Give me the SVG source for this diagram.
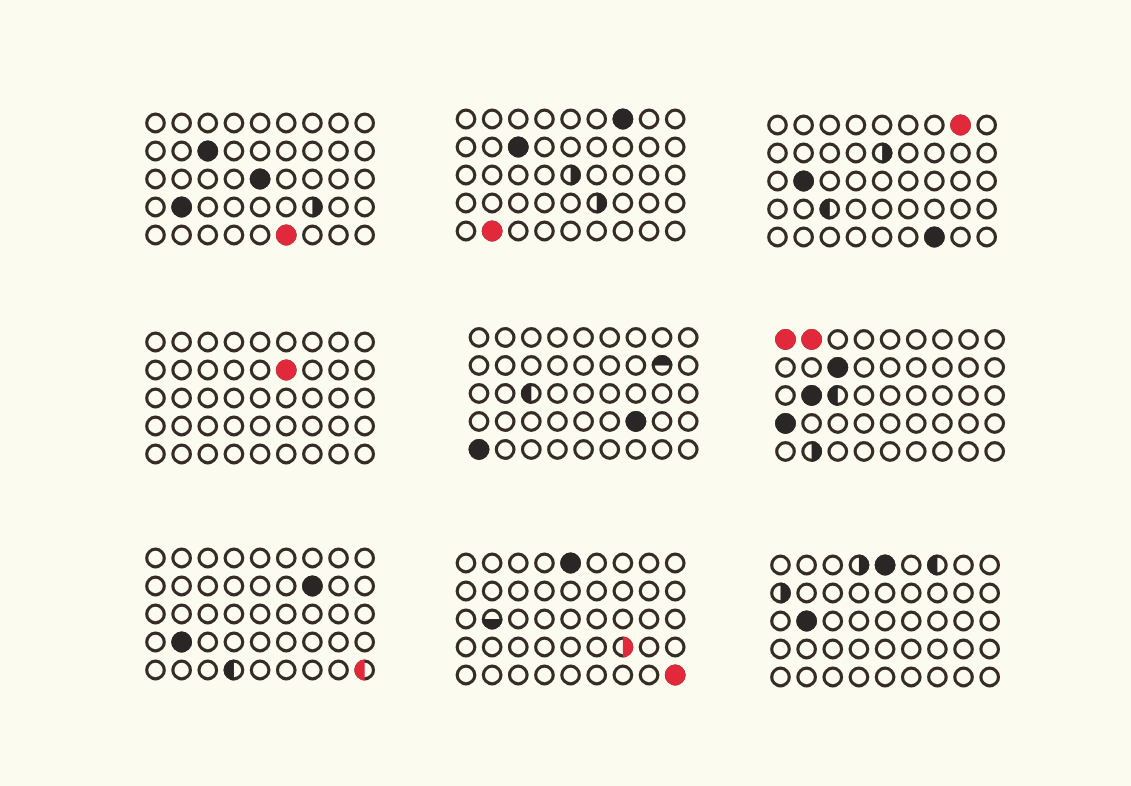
<svg xmlns="http://www.w3.org/2000/svg" xmlns:xlink="http://www.w3.org/1999/xlink" width="1131" height="786" viewBox="0 0 1131 786">
<style>
.ring{fill:none;stroke:#352c27;stroke-width:3.2}
.dk{fill:#2b2626}
.rd{fill:#e2293b}
</style>
<defs>
<circle id="o" class="ring" r="8.8"/>
<circle id="d" class="dk" r="10.4"/>
<circle id="rf" class="rd" r="10.4"/>
<g id="hr"><path class="dk" d="M0,-10.4 A10.4,10.4 0 0 1 0,10.4 Z"/></g>
<g id="hl"><path class="dk" d="M0,-10.4 A10.4,10.4 0 0 0 0,10.4 Z"/></g>
<g id="ht"><path class="dk" d="M-10.4,0 A10.4,10.4 0 0 1 10.4,0 Z"/></g>
<g id="hb"><path class="dk" d="M-10.4,0 A10.4,10.4 0 0 0 10.4,0 Z"/></g>
<g id="hlr"><path class="rd" d="M0,-10.4 A10.4,10.4 0 0 0 0,10.4 Z"/></g>
<g id="hrr"><path class="rd" d="M0,-10.4 A10.4,10.4 0 0 1 0,10.4 Z"/></g>
<g id="row">
<use href="#o" x="0"/><use href="#o" x="26.15"/><use href="#o" x="52.3"/><use href="#o" x="78.45"/><use href="#o" x="104.6"/><use href="#o" x="130.75"/><use href="#o" x="156.9"/><use href="#o" x="183.05"/><use href="#o" x="209.2"/>
</g>
<g id="grid">
<use href="#row" y="0"/><use href="#row" y="28"/><use href="#row" y="56"/><use href="#row" y="84"/><use href="#row" y="112"/>
</g>
</defs>
<rect width="1131" height="786" fill="#fcfbf0"/>
<g id="grid1" transform="translate(155.5,123)">
<use href="#grid"/>
<use href="#d" x="52.3" y="28"/>
<use href="#d" x="104.6" y="56"/>
<use href="#d" x="26.15" y="84"/>
<use href="#hr" x="156.9" y="84"/>
<use href="#rf" x="130.75" y="112"/>
</g>
<g id="grid2" transform="translate(466,119)">
<use href="#grid"/>
<use href="#d" x="156.9" y="0"/>
<use href="#d" x="52.3" y="28"/>
<use href="#hr" x="104.6" y="56"/>
<use href="#hr" x="130.75" y="84"/>
<use href="#rf" x="26.15" y="112"/>
</g>
<g id="grid3" transform="translate(777.5,125)">
<use href="#grid"/>
<use href="#rf" x="183.05" y="0"/>
<use href="#hr" x="104.6" y="28"/>
<use href="#d" x="26.15" y="56"/>
<use href="#hl" x="52.3" y="84"/>
<use href="#d" x="156.9" y="112"/>
</g>
<g id="grid4" transform="translate(155.5,342)">
<use href="#grid"/>
<use href="#rf" x="130.75" y="28"/>
</g>
<g id="grid5" transform="translate(479,337.5)">
<use href="#grid"/>
<use href="#ht" x="183.05" y="28"/>
<use href="#hl" x="52.3" y="56"/>
<use href="#d" x="156.9" y="84"/>
<use href="#d" x="0" y="112"/>
</g>
<g id="grid6" transform="translate(785.5,339.5)">
<use href="#grid"/>
<use href="#rf" x="0" y="0"/>
<use href="#rf" x="26.15" y="0"/>
<use href="#d" x="52.3" y="28"/>
<use href="#d" x="26.15" y="56"/>
<use href="#hl" x="52.3" y="56"/>
<use href="#d" x="0" y="84"/>
<use href="#hr" x="26.15" y="112"/>
</g>
<g id="grid7" transform="translate(155.5,558)">
<use href="#grid"/>
<use href="#d" x="156.9" y="28"/>
<use href="#d" x="26.15" y="84"/>
<use href="#hl" x="78.45" y="112"/>
<use href="#hlr" x="209.2" y="112"/>
</g>
<g id="grid8" transform="translate(466,563)">
<use href="#grid"/>
<use href="#d" x="104.6" y="0"/>
<use href="#hb" x="26.15" y="56"/>
<use href="#hrr" x="156.9" y="84"/>
<use href="#rf" x="209.2" y="112"/>
</g>
<g id="grid9" transform="translate(780.5,565)">
<use href="#grid"/>
<use href="#hr" x="78.45" y="0"/>
<use href="#d" x="104.6" y="0"/>
<use href="#hl" x="156.9" y="0"/>
<use href="#hr" x="0" y="28"/>
<use href="#d" x="26.15" y="56"/>
</g>
</svg>
